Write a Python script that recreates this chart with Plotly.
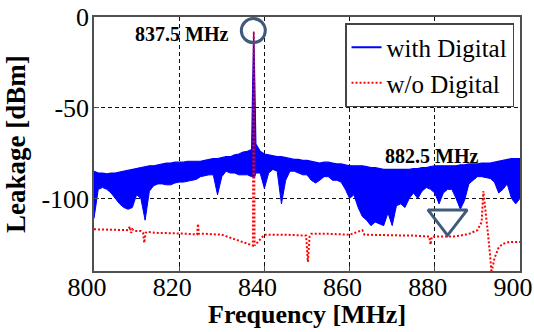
import plotly.graph_objects as go

# ---------------- data ----------------
freq_grid = list(range(800, 901))  # MHz, 1 MHz steps

with_digital_upper = [
    -85, -86, -86, -86.5, -86, -86, -85.5, -85, -84.5, -84,          # 800-809
    -83.5, -83, -82.5, -82, -82, -81.5, -81, -80.5, -80.5, -80,      # 810-819
    -80, -80, -79.5, -79.5, -79.5, -79.5, -79, -78.5, -78, -78,      # 820-829
    -77.5, -77, -77, -76, -75.5, -74.5, -74, -73, -70, -74,          # 830-839
    -75.5, -76, -76.5, -77, -77, -77.5, -78, -78.5, -78.5, -79,      # 840-849
    -79, -79.5, -80, -80.5, -80, -80, -80.5, -81, -81, -81.5,        # 850-859
    -82, -82, -82, -82, -82.5, -83, -83, -83.5, -84, -84,            # 860-869
    -84, -84, -84, -84, -84, -83.5, -83.5, -83, -83, -82.5,          # 870-879
    -82, -82, -82, -82, -82, -82, -81.5, -81.5, -81, -81,            # 880-889
    -81, -80.5, -80.5, -80.5, -80, -79.5, -79, -78.5, -78, -78,      # 890-899
    -78,                                                             # 900
]
with_digital_lower = [
    -111, -95, -94, -95, -97, -100, -103, -105, -106, -105,          # 800-809
    -98, -100, -112, -96, -93, -92, -92, -92.5, -92.5, -91.5,        # 810-819
    -91, -91, -90.5, -90, -89.5, -88, -87.5, -87, -87, -98,          # 820-829
    -88, -85, -86, -86, -87, -87, -87, -88, -86, -86,                # 830-839
    -94.5, -86, -84, -85, -103, -90, -85, -85, -86, -87,             # 840-849
    -87, -90, -91.5, -90, -88, -88, -90, -90, -91, -95,              # 850-859
    -100, -98, -105, -110, -112, -115, -113, -114, -115, -108,       # 860-869
    -115, -104, -103, -105, -100, -97, -100, -96, -94, -95,          # 870-879
    -97, -103, -97, -95, -95, -100, -106, -101, -92, -90,            # 880-889
    -88, -88, -88.5, -89, -91, -97, -95, -92, -100, -103,            # 890-899
    -100,                                                            # 900
]
# carrier spike of the "with Digital" trace
spike_freq = [837.25, 837.5, 837.75]
spike_upper = [-37, -8, -37]
spike_lower = [-88, -88, -88]

without_digital_freq = [
    800, 803, 806, 808, 808.4, 808.7, 809, 809.5, 811, 811.5, 811.8, 812.1,
    812.5, 815, 820, 824.2, 824.4, 824.6, 826, 830, 837.3, 837.5, 837.7, 840,
    845, 848.4, 849.8, 850.2, 850.6, 851, 855, 860, 863, 863.5, 865, 870, 875,
    878.7, 879, 879.3, 882, 884, 886, 888, 890, 891, 891.4, 892, 892.5, 893,
    893.3, 894, 895, 896, 897.5, 900,
]
without_digital_level = [
    -117, -117.3, -117.5, -117.5, -115.5, -119, -117, -118, -118, -119, -124.5, -119,
    -118.5, -119, -119.3, -119.8, -114, -119.5, -119.5, -120, -126, -8, -126, -120,
    -120, -120.5, -120.5, -135, -121, -119.5, -119.5, -120, -117.5, -120, -120, -120.3, -120.5,
    -121, -125.5, -121, -121, -121, -120.5, -119.5, -117.5, -113, -96, -108, -120, -132,
    -141, -133, -127, -125, -124, -124,
]

x_tick_vals = [800, 820, 840, 860, 880, 900]
x_tick_text = ["800", "820", "840", "860", "880", "900"]
y_tick_vals = [-100, -50, 0]
y_tick_text = ["-100", "-50", "0"]

series_names = ["with Digital", "w/o Digital"]
x_title = "Frequency [MHz]"
y_title = "Leakage [dBm]"

highlight_circle = {"freq": [837.4], "level": [-7.5]}
highlight_triangle = {"freq": [883.0], "level": [-111]}

label_texts = ["837.5 MHz", "882.5 MHz"]
label_freq = [820.5, 879.2]
label_level = [-9.5, -76.5]

# ---------------- build ----------------
pts = sorted(
    list(zip(freq_grid, with_digital_upper, with_digital_lower))
    + list(zip(spike_freq, spike_upper, spike_lower))
)
bx = [p[0] for p in pts]
bu = [p[1] for p in pts]
bl = [p[2] for p in pts]

BLUE = "#0000ff"
RED = "#ff0000"
MARK = "#3e5b7b"
FONT = "Liberation Serif, Times New Roman, serif"

fig = go.Figure()
fig.add_trace(go.Scatter(x=bx, y=bl, mode="lines", line=dict(color=BLUE, width=1),
                         showlegend=False, hoverinfo="skip"))
fig.add_trace(go.Scatter(x=bx, y=bu, mode="lines", line=dict(color=BLUE, width=1.2),
                         fill="tonexty", fillcolor=BLUE, showlegend=False))
# legend entry for the blue series
fig.add_trace(go.Scatter(x=[None], y=[None], mode="lines", name=series_names[0],
                         line=dict(color=BLUE, width=2)))
fig.add_trace(go.Scatter(x=without_digital_freq, y=without_digital_level, mode="lines",
                         name=series_names[1],
                         line=dict(color=RED, width=2, dash="2px,2px")))
fig.add_trace(go.Scatter(x=highlight_circle["freq"], y=highlight_circle["level"], mode="markers",
                         marker=dict(symbol="circle-open", size=24, color=MARK,
                                     line=dict(color=MARK, width=3)),
                         showlegend=False, cliponaxis=False))
fig.add_trace(go.Scatter(x=highlight_triangle["freq"], y=highlight_triangle["level"], mode="markers",
                         marker=dict(symbol="triangle-down-open", size=34, color=MARK,
                                     line=dict(color=MARK, width=3)),
                         showlegend=False, cliponaxis=False))

for t, fx, fy in zip(label_texts, label_freq, label_level):
    fig.add_annotation(x=fx, y=fy, text="<b>%s</b>" % t, showarrow=False,
                       font=dict(family=FONT, size=20, color="black"))

# axis titles placed as paper annotations
fig.add_annotation(xref="paper", yref="paper", x=0.5, y=-0.173, yanchor="middle",
                   text="<b>%s</b>" % x_title, showarrow=False,
                   font=dict(family=FONT, size=26, color="black"))
fig.add_annotation(xref="paper", yref="paper", x=-0.183, y=0.5, xanchor="center",
                   yanchor="middle", textangle=-90,
                   text="<b>%s</b>" % y_title, showarrow=False,
                   font=dict(family=FONT, size=27, color="black"))

axis_common = dict(
    automargin=False,
    showline=True, mirror=True, linecolor="#505050", linewidth=1.5,
    ticks="inside", ticklen=5, tickcolor="#505050",
    showgrid=True, gridcolor="#111111", gridwidth=1, griddash="4px,3px",
    zeroline=False,
    tickfont=dict(family=FONT, size=26, color="black"),
)

fig.update_layout(
    width=534, height=332,
    margin=dict(l=94, r=14, t=17, b=61, autoexpand=False),
    paper_bgcolor="white", plot_bgcolor="white",
    font=dict(family=FONT, color="black"),
    xaxis=dict(range=[800, 900], tickvals=x_tick_vals, ticktext=x_tick_text,
               ticklabelshift=-7, ticklabelstandoff=-8, **axis_common),
    yaxis=dict(range=[-140, 0], tickvals=y_tick_vals, ticktext=y_tick_text,
               ticklabelstandoff=-2, **axis_common),
    legend=dict(x=0.986, y=0.976, xanchor="right", yanchor="top",
                bgcolor="white", bordercolor="#444444", borderwidth=1.5,
                font=dict(family=FONT, size=25, color="black"),
                traceorder="normal", tracegroupgap=0, itemwidth=30),
    showlegend=True,
)

fig.write_html("out.html",
               config={"displayModeBar": False},
               post_script="document.body.style.margin='0';document.body.style.padding='0';")
